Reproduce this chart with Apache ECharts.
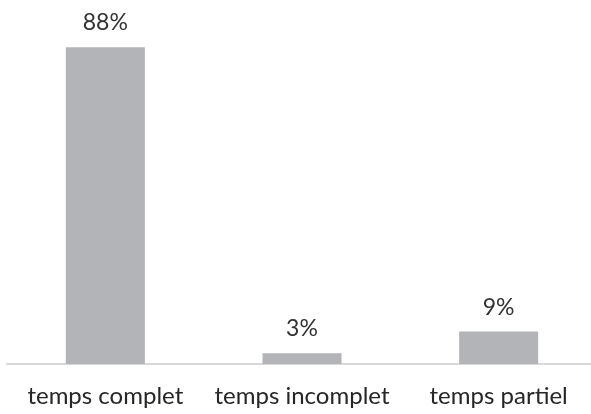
<!DOCTYPE html>
<html><head><meta charset="utf-8">
<script src="https://cdn.jsdelivr.net/npm/echarts@6/dist/echarts.min.js"></script>
<style>html,body{margin:0;padding:0;background:#fff}#c{width:591px;height:414px}</style>
</head><body><div id="c"></div>
<script>
const categories = ['temps complet', 'temps incomplet', 'temps partiel'];
const values = [88, 3, 9];
const chart = echarts.init(document.getElementById('c'), null, {renderer: 'canvas'});
chart.setOption({
  animation: false,
  grid: {left: 7, width: 590, top: 4, bottom: 50, containLabel: false, outerBoundsMode: 'none'},
  xAxis: {
    type: 'category', data: categories,
    axisLine: {lineStyle: {color: '#d9d9d9', width: 2}},
    axisTick: {show: false},
    axisLabel: {color: '#262626', fontFamily: 'Lato', fontSize: 24, margin: 20, interval: 0, hideOverlap: false}
  },
  yAxis: {type: 'value', min: 0, max: 100, show: false, splitLine: {show: false}},
  series: [{
    type: 'bar', data: values, barWidth: 79,
    itemStyle: {color: '#b3b4b7'},
    label: {show: true, position: 'top', distance: 13, formatter: '{c}%', color: '#333333', fontFamily: 'Lato', fontSize: 23}
  }]
});
</script></body></html>
